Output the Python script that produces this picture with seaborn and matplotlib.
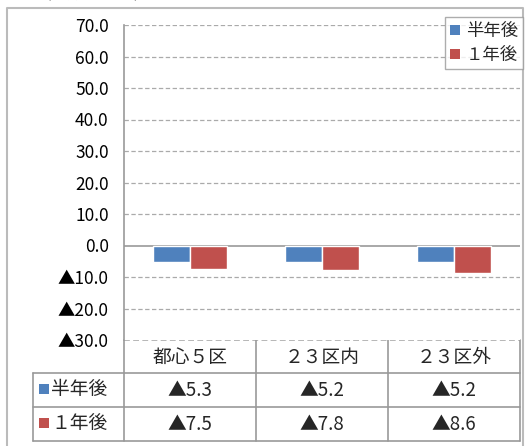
import pandas as pd
import matplotlib.pyplot as plt
import seaborn as sns
from matplotlib.lines import Line2D
from matplotlib.ticker import FuncFormatter

# データ
categories = ['都心５区', '２３区内', '２３区外']
series = ['半年後', '１年後']
half_year = [-5.3, -5.2, -5.2]
one_year = [-7.5, -7.8, -8.6]
colors = ['#4F81BD', '#C0504D']
y_ticks = [-30, -20, -10, 0, 10, 20, 30, 40, 50, 60, 70]

df = pd.DataFrame({
    'cat': categories * 2,
    'series': [series[0]] * 3 + [series[1]] * 3,
    'value': half_year + one_year,
})

sns.set_theme(style="white")
plt.rcParams['font.family'] = ['Noto Sans CJK JP', 'DejaVu Sans']

W, H = 529, 446
fig = plt.figure(figsize=(W / 100, H / 100), dpi=100)

def px_rect(x0, y0, x1, y1):
    return [x0 / W, 1 - y1 / H, (x1 - x0) / W, (y1 - y0) / H]

def fmt(v):
    return f'▲{abs(v):.1f}' if v < 0 else f'{v:.1f}'

# 棒グラフ
ax = fig.add_axes(px_rect(124, 25, 520, 340))
sns.barplot(data=df, x='cat', y='value', hue='series', palette=colors,
            width=0.56, gap=0, saturation=1, legend=False, ax=ax)
ax.set_ylim(-30, 70)
ax.set_xlim(-0.5, 2.5)
ax.set_yticks(y_ticks)
ax.yaxis.set_major_formatter(FuncFormatter(lambda v, p: fmt(v)))
ax.tick_params(axis='y', length=0, pad=11, labelsize=12.5, colors='black')
ax.set_xticks([])
ax.set_xlabel('')
ax.set_ylabel('')
for t in y_ticks:
    if t == 0:
        ax.axhline(0, color='#999999', lw=1.2, zorder=0)
    elif t > -30:
        ax.axhline(t, color='#aaaaaa', lw=0.9, ls=(0, (3.5, 2)), zorder=0)
for s in ['top', 'right', 'bottom']:
    ax.spines[s].set_visible(False)
ax.spines['left'].set_color('#999999')
ax.spines['left'].set_linewidth(1.2)

# オーバーレイ（枠・表）
ov = fig.add_axes([0, 0, 1, 1], zorder=-1)
ov.set_xlim(0, W)
ov.set_ylim(H, 0)
ov.axis('off')
ov.patch.set_alpha(0)
ov.text(34, -6, '（前期比、％）', fontsize=12, va='center', ha='left')
line_c = '#999999'
ov.plot([6.5, 6.5, 523, 523], [H + 5, 8, 8, H + 5], color='#bbbbbb', lw=1.5)

col_edges = [124 + 132 * i for i in range(4)]
row_edges = [340, 373, 407, 441]
ov.plot([124, 520], [340, 340], color='#aaaaaa', lw=1.2, ls=(0, (3.5, 2)))
for y in row_edges[1:]:
    ov.plot([33, 520], [y, y], color=line_c, lw=1.2)
ov.plot([33, 33], [373, 441], color=line_c, lw=1.2)
for x in col_edges:
    ov.plot([x, x], [340, 441], color=line_c, lw=1.2)

for i, c in enumerate(categories):
    cx = (col_edges[i] + col_edges[i + 1]) / 2
    ov.text(cx, 357, c, ha='center', va='center', fontsize=13.5)
for r, (name, vals) in enumerate(zip(series, [half_year, one_year])):
    cy = (row_edges[r + 1] + row_edges[r + 2]) / 2
    ov.plot(44, cy - 1, marker='s', ms=7, color=colors[r], mew=0)
    ov.text(51, cy, name, ha='left', va='center', fontsize=13.5)
    for i, v in enumerate(vals):
        cx = (col_edges[i] + col_edges[i + 1]) / 2
        ov.text(cx, cy, fmt(v), ha='center', va='center', fontsize=13.5)

# 凡例
handles = [Line2D([], [], ls='', marker='s', ms=7, color=c, mew=0) for c in colors]
leg = fig.legend(handles, series, loc='upper right',
                 bbox_to_anchor=(523 / W, 1 - 17 / H), fontsize=12.5,
                 frameon=True, fancybox=False, handlelength=0.6,
                 handletextpad=0.3, borderpad=0.3, labelspacing=0.35,
                 borderaxespad=0)
leg.get_frame().set_edgecolor('#999999')
leg.get_frame().set_linewidth(1)

plt.savefig('out.png', dpi=100)
